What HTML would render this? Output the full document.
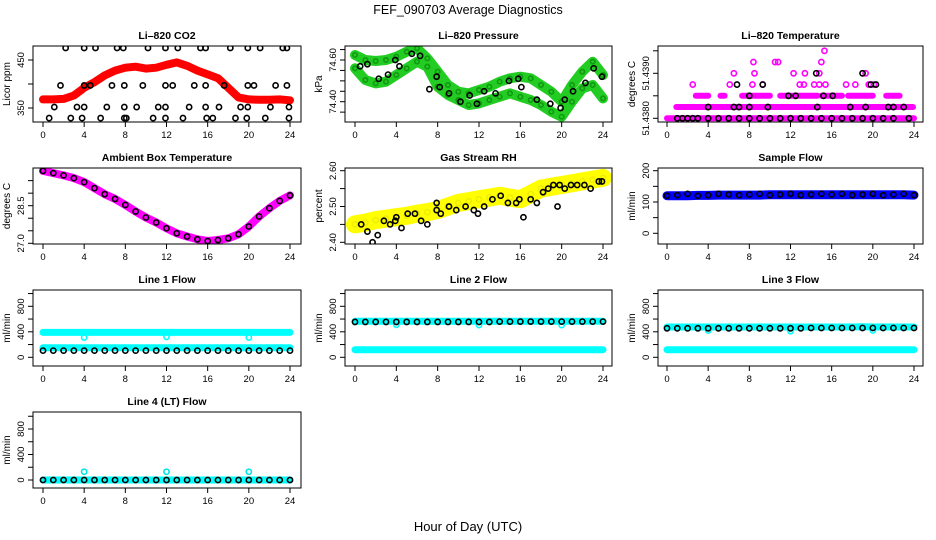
<!DOCTYPE html>
<html><head><meta charset="utf-8"><style>
html,body{margin:0;padding:0;background:#fff;}
svg{display:block;font-family:"Liberation Sans",sans-serif;}
</style></head><body>
<svg id="chart" width="936" height="540" viewBox="0 0 936 540" xmlns="http://www.w3.org/2000/svg">
<text x="468" y="14" text-anchor="middle" font-size="12.5">FEF_090703  Average Diagnostics</text>
<text x="468" y="531" text-anchor="middle" font-size="13">Hour of Day (UTC)</text>
</svg>
<script>
// ---------- data ----------
const hours = [0,1,2,3,4,5,6,7,8,9,10,11,12,13,14,15,16,17,18,19,20,21,22,23,24];
const xTickLabels = [0,4,8,12,16,20,24];

const co2Red = [368,368,369,376,392,404,418,428,434,436,432,434,440,445,438,428,420,412,392,372,368,367,367,368,366];
const co2BlackX = [2.2,4.0,5.1,7.2,7.8,10.2,11.9,13.1,15.3,15.8,18.2,19.9,21.1,23.3,23.7,
  1.7,4.0,4.6,6.7,7.9,9.7,11.9,12.6,14.7,15.8,17.6,19.9,20.5,22.6,23.7,
  1.1,3.3,4.0,6.2,7.9,9.1,11.2,11.9,14.2,15.8,17.1,19.2,19.9,22.1,23.9,
  0.6,2.7,3.8,5.6,7.9,8.1,10.7,11.9,13.6,15.9,16.5,18.7,19.8,21.6,23.9];
const co2BlackY = [475,475,475,475,475,475,475,475,475,475,475,475,475,475,475,
  397,397,397,397,397,397,397,397,397,397,397,397,397,397,397,
  352,352,352,352,352,352,352,352,352,352,352,352,352,352,352,
  329,329,329,329,329,329,329,329,329,329,329,329,329,329,329];

const presUpper = [74.624,74.600,74.595,74.600,74.616,74.640,74.656,74.608,74.544,74.480,74.448,74.440,74.456,74.472,74.496,74.512,74.520,74.512,74.480,74.448,74.400,74.480,74.544,74.592,74.528];
const presLower = [74.560,74.504,74.488,74.496,74.528,74.560,74.592,74.568,74.472,74.432,74.408,74.384,74.392,74.408,74.424,74.440,74.424,74.408,74.384,74.352,74.328,74.400,74.464,74.480,74.416];
const presBlackX = [0.5,1.2,2.3,3.2,3.9,4.3,5.5,6.3,7.2,7.9,8.2,9.1,10.2,11.1,11.8,12.5,13.6,14.9,15.8,16.1,17.6,18.9,19.9,20.3,21.1,22.3,23.1,23.9];
const presBlackY = [74.57,74.58,74.51,74.53,74.60,74.57,74.63,74.62,74.46,74.52,74.47,74.44,74.40,74.43,74.39,74.45,74.44,74.50,74.51,74.47,74.41,74.39,74.37,74.41,74.45,74.49,74.56,74.52];

const tempLevelK = [0,1,2,2,2,2,2,2,2];
const tempStart  = [0.0,0.9,2.8,5.2,7.3,11.0,15.0,17.6,21.3];
const tempEnd    = [24.0,23.9,4.0,5.6,10.0,14.6,17.0,20.0,22.6];
const tempDotX = [2.5,6.1,8.3,9.3,12.9,13.3,14.3,14.8,15.4,17.4,18.3,19.6,20.1, 6.5,8.5,12.3,13.4,14.8,19.3, 8.4,10.5,10.8,15.0, 15.3];
const tempDotK = [3,3,3,3,3,3,3,3,3,3,3,3,3, 4,4,4,4,4,4, 5,5,5,5, 6];
const tempBlackX = [1,1.5,2,2.5,3,4,5,6,7,8,9,10,11,12,13,14,15,16,17,18,19,20,21,22,23.5, 4,6.5,7,8,9.8,14.6,17.8,19.3,21.5,22,23, 8,11.8,12.5,15.2,16.1, 6.8,9.3,19.8,20.3, 14.5,19];
const tempBlackK = [0,0,0,0,0,0,0,0,0,0,0,0,0,0,0,0,0,0,0,0,0,0,0,0,0, 1,1,1,1,1,1,1,1,1,1,1, 2,2,2,2,2, 3,3,3,3, 4,4];

const ambient = [29.89,29.80,29.71,29.60,29.44,29.20,28.96,28.77,28.53,28.27,28.03,27.83,27.60,27.40,27.27,27.16,27.09,27.13,27.20,27.36,27.67,28.07,28.40,28.69,28.91];

const rhYellow = [2.450,2.455,2.462,2.466,2.470,2.474,2.480,2.484,2.490,2.500,2.510,2.515,2.520,2.525,2.530,2.525,2.520,2.535,2.550,2.555,2.560,2.565,2.570,2.575,2.580];
const rhBlackX = [0.6,1.2,1.7,2.2,2.8,3.4,3.9,4.0,4.5,5.1,5.8,6.4,7.0,7.9,7.9,8.3,9.1,9.8,10.7,11.5,11.9,12.5,13.3,14.1,14.8,15.6,15.9,16.3,17.0,17.6,18.2,18.7,19.2,19.6,19.8,20.3,20.9,21.5,22.2,22.8,23.6,23.9];
const rhBlackY = [2.45,2.43,2.40,2.42,2.46,2.45,2.46,2.47,2.44,2.48,2.48,2.46,2.45,2.49,2.51,2.48,2.50,2.49,2.50,2.49,2.48,2.50,2.52,2.53,2.51,2.51,2.52,2.47,2.52,2.51,2.54,2.55,2.56,2.50,2.56,2.55,2.56,2.56,2.56,2.55,2.57,2.57];

const sampleBlue = [120,120,120,121,121,122,122,122,122,122,123,123,123,123,123,123,123,123,123,123,123,123,123,123,122];
const sampleBlack = [120,122,126,120,122,126,124,122,124,126,122,124,126,122,124,126,124,126,122,124,126,122,124,126,122];

const dipHours = [4,12,20];
const line1CyanHi = [390,390,390,390,390,390,390,390,390,390,390,390,390,390,390,390,390,390,390,390,390,390,390,390,390];
const line1Dips   = [310,320,310];
const line1CyanLo = [150,150,150,150,150,150,150,150,150,150,150,150,150,150,150,150,150,150,150,150,150,150,150,150,150];
const line1Black  = [105,105,105,105,105,105,105,105,105,105,105,105,105,105,105,105,105,105,105,105,105,105,105,105,105];
const line2CyanHi = [565,565,565,565,565,565,565,565,565,565,565,565,565,565,565,565,565,565,565,565,565,565,565,565,565];
const line2Dips   = [510,505,505];
const line2CyanLo = [120,120,120,120,120,120,120,120,120,120,120,120,120,120,120,120,120,120,120,120,120,120,120,120,120];
const line2Black  = [555,555,555,555,555,555,555,555,555,555,555,555,555,555,560,560,560,560,560,560,560,560,560,560,560];
const line3CyanHi = [475,475,475,475,475,475,475,475,475,475,475,475,475,475,475,475,475,475,475,480,475,475,475,475,475];
const line3Dips   = [420,410,420];
const line3CyanLo = [120,120,120,120,120,120,120,120,120,120,120,120,120,120,120,120,120,120,120,120,120,120,120,120,120];
const line3Black  = [455,455,455,455,455,455,455,455,455,455,455,455,455,455,460,460,460,460,460,460,460,460,460,460,460];
const line4Cyan   = [0,0,0,0,0,0,0,0,0,0,0,0,0,0,0,0,0,0,0,0,0,0,0,0,0];
const line4Bumps  = [130,130,130];
const line4Black  = [0,0,0,0,0,0,0,0,0,0,0,0,0,0,0,0,0,0,0,0,0,0,0,0,0];

// ---------- rendering ----------
const svg = document.getElementById('chart');
const NS = 'http://www.w3.org/2000/svg';
const cols = [{bl:33,br:301,x0:43,x24:290},{bl:345,br:612,x0:355,x24:603},{bl:658,br:923,x0:667,x24:914}];
const rowTop = [46,168,290,412], rowBot = [122,244,366,488];

function mk(tag, attrs, parent){
  const e = document.createElementNS(NS, tag);
  for (const k in attrs) e.setAttribute(k, attrs[k]);
  (parent||svg).appendChild(e);
  return e;
}

function panel(c, r, title, ylab, v1, y1, v2, y2, ticks, labels, name){
  const C = cols[c], top = rowTop[r], bot = rowBot[r];
  const g = mk('g', {});
  
  
  const xs = h => C.x0 + (h/24)*(C.x24 - C.x0);
  const ys = v => y1 + (v - v1)*(y2 - y1)/(v2 - v1);
  const t = mk('text', {x:(C.bl+C.br)/2, y:top-7, 'text-anchor':'middle', 'font-size':'10.5', 'font-weight':'bold'}, g);
  t.textContent = title;
  
  
  const yl = mk('text', {x:0, y:0, transform:`translate(${C.bl-23},${(top+bot)/2}) rotate(-90)`, 'text-anchor':'middle', 'font-size':'10'}, g);
  yl.textContent = ylab;
  
  
  xTickLabels.forEach(h => {
    const x = xs(h);
    const tk = mk('line', {x1:x, x2:x, y1:bot, y2:bot+5, stroke:'#000', 'stroke-width':1}, g);
    
    
    const tl = mk('text', {x:x, y:bot+16, 'text-anchor':'middle', 'font-size':'9.5'}, g);
    tl.textContent = h;
    
    
  });
  ticks.forEach(v => {
    const y = ys(v);
    const tk = mk('line', {x1:C.bl-5, x2:C.bl, y1:y, y2:y, stroke:'#000', 'stroke-width':1}, g);
    
    
  });
  labels.forEach(l => {
    const y = ys(l[0]);
    const tl = mk('text', {x:0, y:0, transform:`translate(${C.bl-9},${y}) rotate(-90)`, 'text-anchor':'middle', 'font-size':'9.5'}, g);
    tl.textContent = l[1];
    
    
  });
  const plot = mk('g', {}, g);
  
  
  const clipId = 'clip' + c + r;
  const cp = mk('clipPath', {id:clipId}, g);
  mk('rect', {x:C.bl, y:top, width:C.br-C.bl, height:bot-top}, cp);
  plot.setAttribute('clip-path', `url(#${clipId})`);
  const box = mk('rect', {x:C.bl, y:top, width:C.br-C.bl, height:bot-top, fill:'none', stroke:'#000', 'stroke-width':1}, g);
  
  
  return {xs, ys, plot};
}

function band(P, xArr, vArr, color, w, name){
  const pts = xArr.map((h,i) => P.xs(h).toFixed(1) + ',' + P.ys(vArr[i]).toFixed(1)).join(' ');
  const pl = mk('polyline', {points:pts, fill:'none', stroke:color, 'stroke-width':w, 'stroke-linejoin':'round', 'stroke-linecap':'round'}, P.plot);
  
  
}
function dots(P, xArr, vArr, color, name, rad){
  xArr.forEach((h,i) => {
    const ci = mk('circle', {cx:P.xs(h), cy:P.ys(vArr[i]), r:rad||2.6, fill:'none', stroke:color, 'stroke-width':1.6}, P.plot);
    
    
  });
}

// CO2
let P = panel(0,0,'Li\u2013820 CO2','Licor ppm',350,108,450,60,[350,400,450],[[350,'350'],[450,'450']],'co2');
band(P, hours, co2Red, '#f00', 8, 'co2-red-band');
dots(P, hours, co2Red, '#f00', 'co2-red-point');
dots(P, co2BlackX, co2BlackY, '#000', 'co2-black-point');

// Pressure
P = panel(1,0,'Li\u2013820 Pressure','kPa',74.40,101.7,74.60,60,[74.35,74.40,74.45,74.50,74.55,74.60,74.65],[[74.40,'74.40'],[74.60,'74.60']],'pressure');
band(P, hours, presUpper, '#22cc22', 10, 'pressure-upper-band');
band(P, hours, presLower, '#22cc22', 10, 'pressure-lower-band');
dots(P, hours, presUpper, '#119911', 'pressure-green-point', 2.2);
dots(P, hours, presLower, '#119911', 'pressure-green-point', 2.2);
dots(P, presBlackX, presBlackY, '#000', 'pressure-black-point');

// Li-820 Temperature
P = panel(2,0,'Li\u2013820 Temperature','degrees C',51.4380,118.3,51.4390,73.3,[51.4380,51.4385,51.4390,51.4395],[[51.4380,'51.4380'],[51.4390,'51.4390']],'li820-temp');
const lev = k => 51.4380 + k*0.00025;
tempLevelK.forEach((k,i) => {
  band(P, [tempStart[i], tempEnd[i]], [lev(k), lev(k)], '#ff00ff', 6, 'temp-magenta-segment');
});
dots(P, tempDotX, tempDotK.map(lev), '#ff00ff', 'temp-magenta-point');
dots(P, tempBlackX, tempBlackK.map(lev), '#000', 'temp-black-point');

// Ambient
P = panel(0,1,'Ambient Box Temperature','degrees C',27.0,243.3,28.5,205.7,[27.0,27.5,28.0,28.5,29.0,29.5],[[27.0,'27.0'],[28.5,'28.5']],'ambient');
band(P, hours, ambient, '#ff00ff', 8, 'ambient-magenta-band');
dots(P, hours, ambient, '#000', 'ambient-black-point');

// Gas Stream RH
P = panel(1,1,'Gas Stream RH','percent',2.40,242.3,2.60,170.7,[2.40,2.45,2.50,2.55,2.60],[[2.40,'2.40'],[2.50,'2.50'],[2.60,'2.60']],'rh');
band(P, hours, rhYellow, '#ffff00', 18, 'rh-yellow-band');
dots(P, hours, rhYellow, '#eeee00', 'rh-yellow-point');
dots(P, rhBlackX, rhBlackY, '#000', 'rh-black-point');

// Sample flow
P = panel(2,1,'Sample Flow','ml/min',0,233.3,200,170.7,[0,50,100,150,200],[[0,'0'],[100,'100'],[200,'200']],'sample-flow');
band(P, hours, sampleBlue, '#0000ff', 9, 'sample-blue-band');
dots(P, hours, sampleBlack, '#000', 'sample-black-point');

// Flows
const flowTicks = [0,200,400,600,800,1000];
const flowLabels = [[0,'0'],[400,'400'],[800,'800']];
P = panel(0,2,'Line 1 Flow','ml/min',0,357.3,800,306.3,flowTicks,flowLabels,'line1');
band(P, hours, line1CyanHi, '#00ffff', 7, 'line1-cyan-high');
dots(P, dipHours, line1Dips, '#00ffff', 'line1-cyan-dip');
band(P, hours, line1CyanLo, '#00ffff', 7, 'line1-cyan-low');
dots(P, hours, line1Black, '#000', 'line1-black-point');

P = panel(1,2,'Line 2 Flow','ml/min',0,357.3,800,306.3,flowTicks,flowLabels,'line2');
band(P, hours, line2CyanHi, '#00ffff', 7, 'line2-cyan-high');
dots(P, dipHours, line2Dips, '#00ffff', 'line2-cyan-dip');
band(P, hours, line2CyanLo, '#00ffff', 7, 'line2-cyan-low');
dots(P, hours, line2Black, '#000', 'line2-black-point');

P = panel(2,2,'Line 3 Flow','ml/min',0,357.3,800,306.3,flowTicks,flowLabels,'line3');
band(P, hours, line3CyanHi, '#00ffff', 7, 'line3-cyan-high');
dots(P, dipHours, line3Dips, '#00ffff', 'line3-cyan-dip');
band(P, hours, line3CyanLo, '#00ffff', 7, 'line3-cyan-low');
dots(P, hours, line3Black, '#000', 'line3-black-point');

P = panel(0,3,'Line 4 (LT) Flow','ml/min',0,480,800,429,flowTicks,flowLabels,'line4');
band(P, hours, line4Cyan, '#00ffff', 7, 'line4-cyan-band');
dots(P, dipHours, line4Bumps, '#00e5e5', 'line4-cyan-bump');
dots(P, hours, line4Black, '#000', 'line4-black-point');
</script>
</body></html>
